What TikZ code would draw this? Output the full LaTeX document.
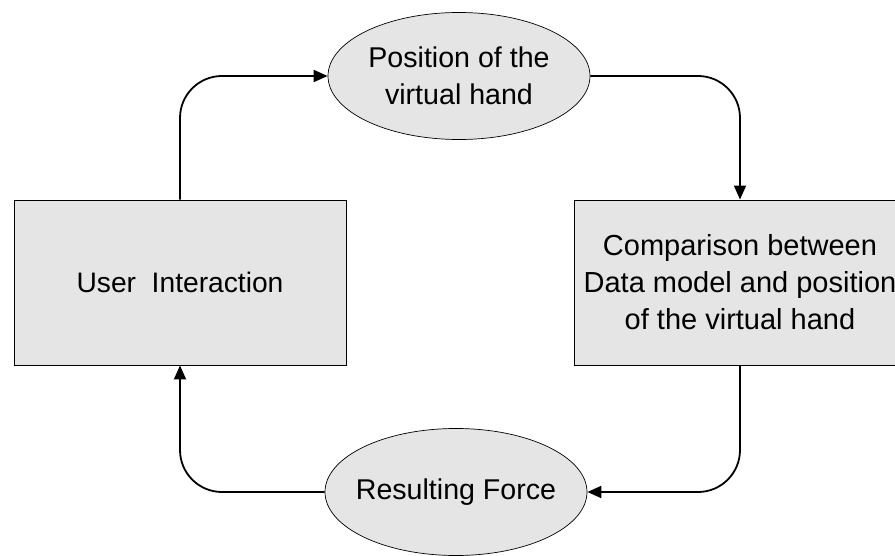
\documentclass[tikz,border=0pt]{standalone}
\usepackage{fontspec}
\setmainfont{Liberation Sans}
\usetikzlibrary{shapes.geometric,arrows.meta}
\begin{document}
\begin{tikzpicture}[x=1pt,y=-1pt,
  box/.style={draw=black,line width=0.9pt,fill=black!10,minimum width=332pt,minimum height=165pt,inner sep=0pt,align=center,font=\fontsize{29}{37}\selectfont},
  oval/.style={ellipse,draw=black,line width=0.7pt,fill=black!10,minimum width=262pt,minimum height=127pt,inner xsep=-30pt,inner ysep=-10pt,align=center,font=\fontsize{28.6}{36.5}\selectfont},
  conn/.style={line width=1.8pt,rounded corners=42pt,-{Triangle[length=14pt,width=12pt]}}]
\useasboundingbox (0,0) rectangle (895,556);
\clip (0,0) rectangle (895,556);
\fill[white] (0,0) rectangle (895,556);
\node[box,font=\fontsize{28.2}{37}\selectfont] (L) at (180,282.5) {User\ \ Interaction};
\node[box] (R) at (740,282.5) {Comparison between\\Data model and position\\of the virtual hand};
\node[oval] (T) at (459,76) {Position of the\\virtual hand};
\node[oval] (B) at (456,492) {Resulting Force};
\draw[conn] (L.north) |- (T.west);
\draw[conn] (T.east) -| (R.north);
\draw[conn] (R.south) |- (B.east);
\draw[conn] (B.west) -| (L.south);
\end{tikzpicture}
\end{document}
